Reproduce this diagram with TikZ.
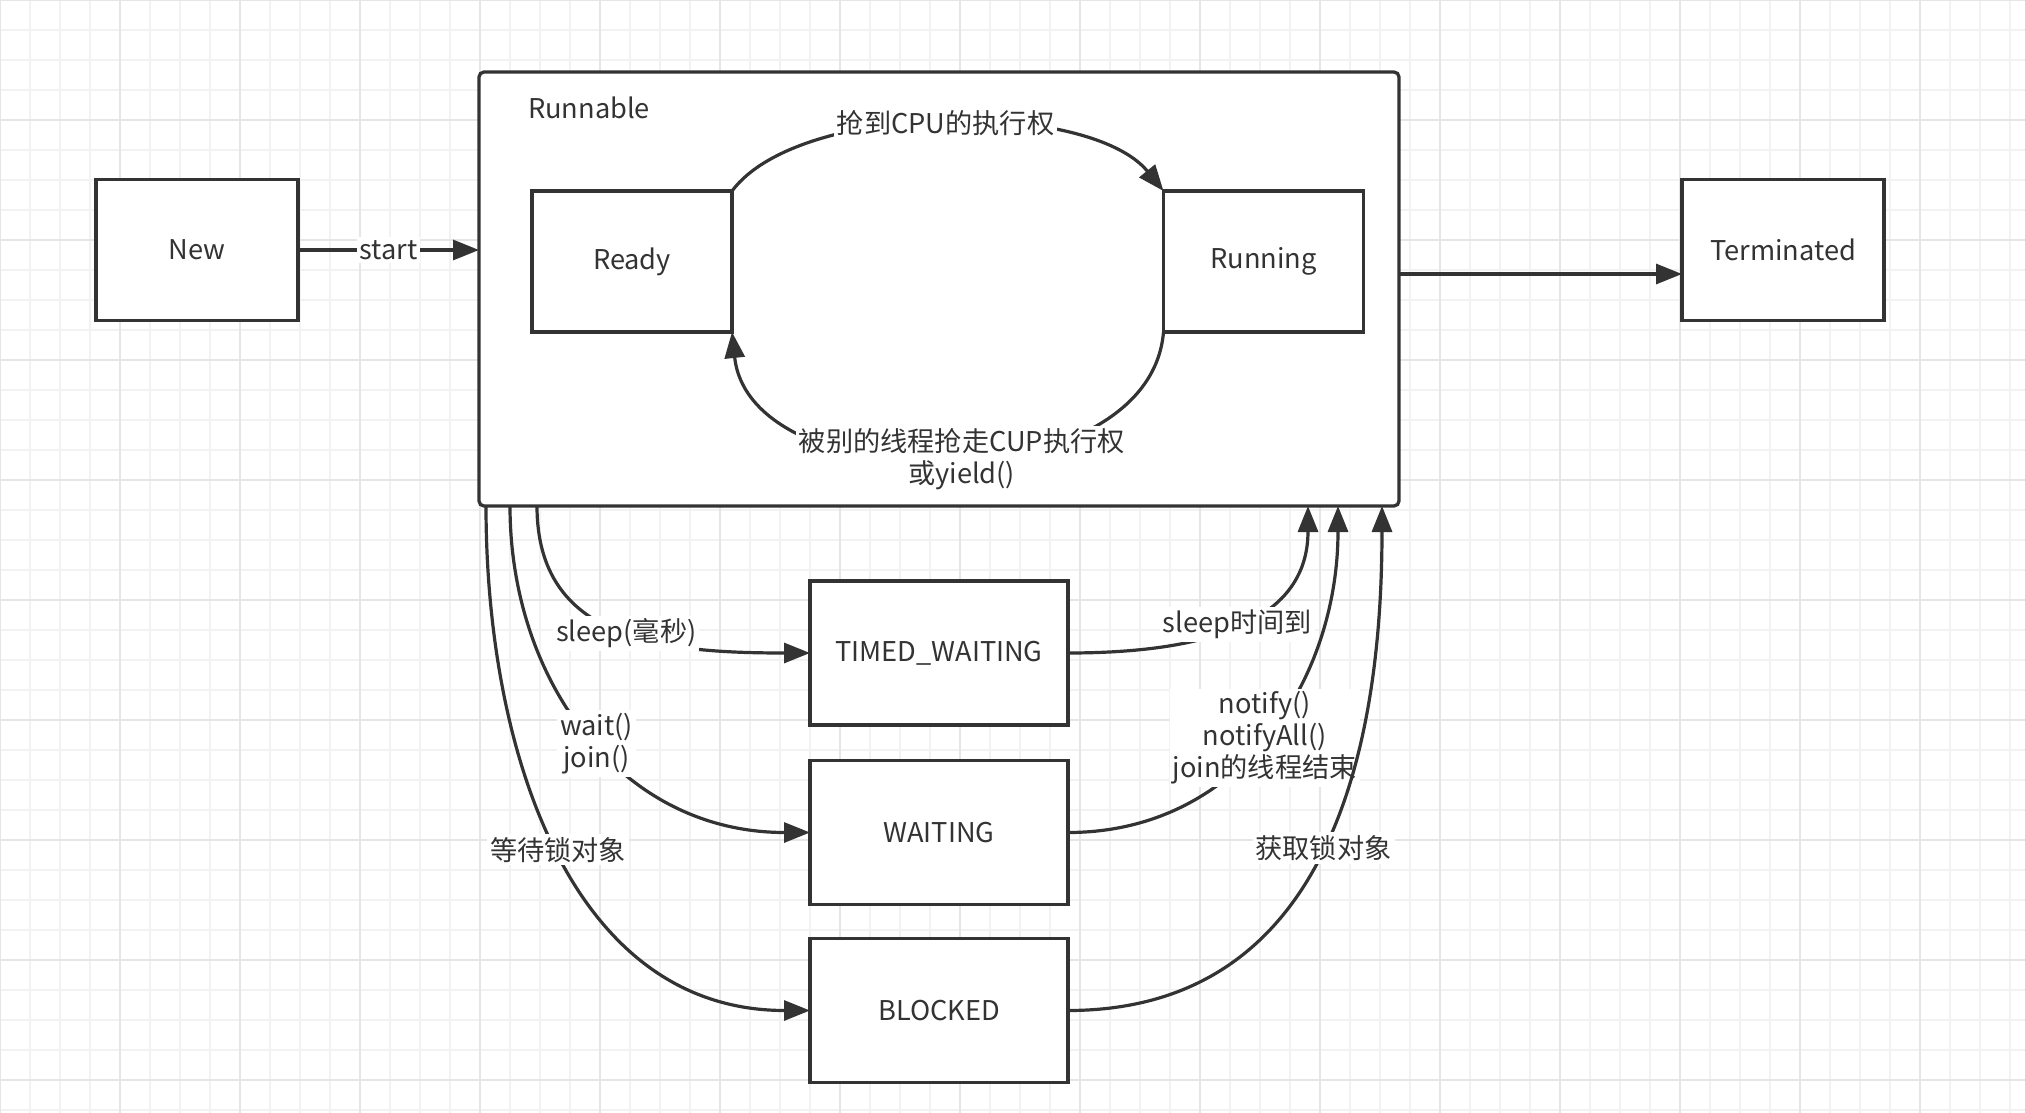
\documentclass[tikz,border=0pt]{standalone}
\usepackage{fontspec}
\setmainfont{Noto Sans CJK SC}
\usetikzlibrary{arrows.meta}
\definecolor{ink}{HTML}{333333}
\definecolor{gridminor}{HTML}{F2F2F2}
\definecolor{gridmajor}{HTML}{E6E6E6}
\newcommand\lblfont{\fontsize{13.6pt}{16pt}\selectfont}
\begin{document}
\begin{tikzpicture}[x=0.5pt,y=-0.5pt,
  box/.style={draw=ink,fill=white,line width=1.65pt,inner sep=0pt,outer sep=0pt,text=ink,font=\lblfont},
  smallbox/.style={box,minimum width=101pt,minimum height=70.5pt},
  inbox/.style={box,minimum width=100pt,minimum height=70.5pt},
  statebox/.style={box,minimum width=129pt,minimum height=72pt},
  arr/.style={draw=ink,line width=1.6pt,-{Triangle[length=13pt,width=10pt]}},
  lbl/.style={fill=white,text=ink,font=\lblfont,inner sep=1.5pt,align=center}]
\useasboundingbox (0,0) rectangle (2025,1113);
\fill[white] (0,0) rectangle (2025,1113);
% grid
\foreach \x in {0,30,...,2025} \draw[gridminor,line width=1pt] (\x,0) -- (\x,1113);
\foreach \y in {0,30,...,1113} \draw[gridminor,line width=1pt] (0,\y) -- (2025,\y);
\foreach \x in {0,120,...,2025} \draw[gridmajor,line width=1pt] (\x,0) -- (\x,1113);
\foreach \y in {0,120,...,1113} \draw[gridmajor,line width=1pt] (0,\y) -- (2025,\y);
% nodes
\node[smallbox] (new) at (197,250) {New};
\node[box,rounded corners=2.5pt,minimum width=460pt,minimum height=217pt] (runnable) at (939,289) {};
\node[text=ink,font=\lblfont] (rlabel) at (589,108) {Runnable};
\node[inbox] (ready) at (632,261.5) {Ready};
\node[inbox] (running) at (1263.5,261.5) {Running};
\node[smallbox] (term) at (1783,250) {Terminated};
\node[statebox] (tw) at (939,653) {TIMED\_WAITING};
\node[statebox] (wait) at (939,832.5) {WAITING};
\node[statebox] (blocked) at (939,1010.5) {BLOCKED};
% helper coordinates
\coordinate (tout) at ([yshift=7.5pt]runnable.east);
\coordinate (l1) at ([xshift=29pt]runnable.south west);
\coordinate (l2) at ([xshift=15.5pt]runnable.south west);
\coordinate (l3) at ([xshift=3.5pt]runnable.south west);
\coordinate (r1) at ([xshift=-45.5pt]runnable.south east);
\coordinate (r2) at ([xshift=-30.5pt]runnable.south east);
\coordinate (r3) at ([xshift=-8.5pt]runnable.south east);
% connectors
\draw[arr] (new) -- (new -| runnable.west) node[midway,lbl] {start};
\draw[arr] (tout) -- (tout -| term.west);
\draw[arr] (ready.north east) .. controls +(68,-91) and +(-74,-91) .. (running.north west)
  node[pos=0.5,lbl] {抢到CPU的执行权};
\draw[arr] (running.south west) .. controls +(-14,170) and +(18,170) .. (ready.south east)
  node[pos=0.48,lbl] {被别的线程抢走CUP执行权\\或yield()};
\draw[arr] (l1) .. controls +(0,134) and +(-150,0) .. (tw.west)
  node[pos=0.53,lbl] {sleep(毫秒)};
\draw[arr] (l2) .. controls +(0,174) and +(-190,0) .. (wait.west)
  node[pos=0.525,lbl] {wait()\\join()};
\draw[arr] (l3) .. controls +(0,244) and +(-240,0) .. (blocked.west)
  node[pos=0.5,lbl] {等待锁对象};
\draw[arr] (tw.east) .. controls +(132,0) and +(0,119) .. (r1)
  node[pos=0.5,lbl] {sleep时间到};
\draw[arr] (wait.east) .. controls +(172,0) and +(0,174) .. (r2)
  node[pos=0.49,lbl] {notify()\\notifyAll()\\join的线程结束};
\draw[arr] (blocked.east) .. controls +(270,0) and +(0,224) .. (r3)
  node[pos=0.49,lbl] {获取锁对象};
\end{tikzpicture}
\end{document}
